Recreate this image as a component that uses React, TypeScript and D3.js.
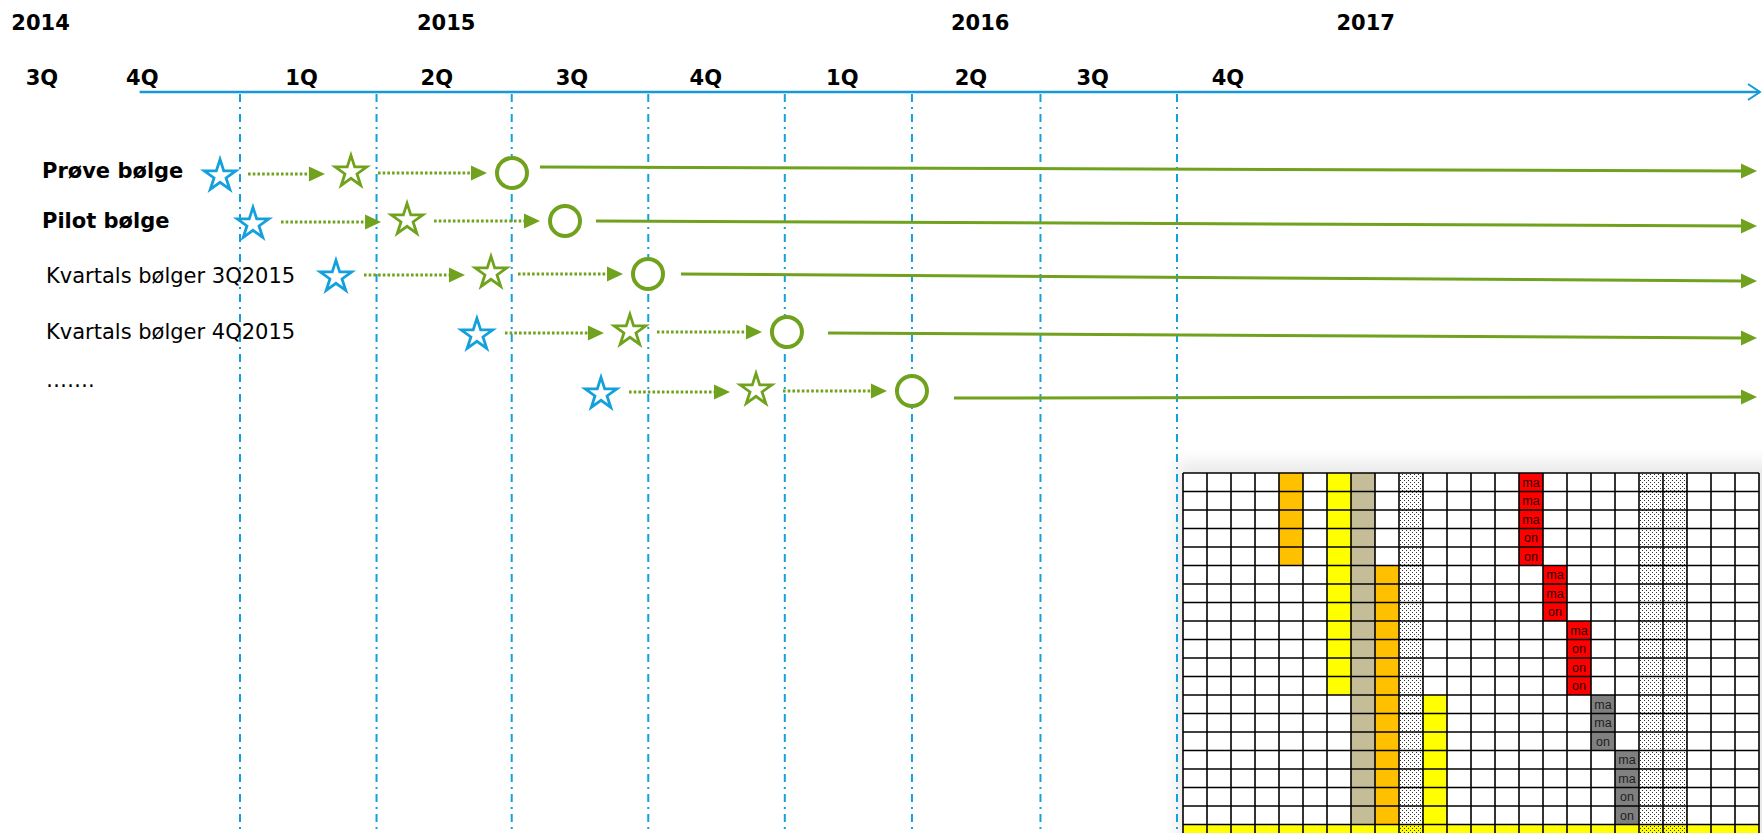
import React, { useEffect } from "react";
import * as d3 from "d3";

// ---- timeline data (time in quarters, 0 = start of 1Q 2015) ----
const yearLabels = ["2014", "2015", "2016", "2017"];
const yearT = [-1.49, 1.54, 5.53, 8.41];
const quarterLabels = ["3Q", "4Q", "1Q", "2Q", "3Q", "4Q", "1Q", "2Q", "3Q", "4Q"];
const quarterT = [-1.48, -0.73, 0.46, 1.47, 2.48, 3.48, 4.5, 5.46, 6.37, 7.38];
const gridlineT = [0, 1.02, 2.03, 3.05, 4.07, 5.02, 5.98, 7];
const axisStartT = -0.75;
const axisEndT = 11.355;
const runEndT = 11.333;

const waveNames = ["Prøve bølge", "Pilot bølge", "Kvartals bølger 3Q2015", "Kvartals bølger 4Q2015", "……."];
const waveBold = [true, true, false, false, false];
const startT = [-0.149, 0.097, 0.717, 1.77, 2.697]; // blue star
const midT = [0.829, 1.248, 1.875, 2.913, 3.855]; // green star
const goLiveT = [2.032, 2.428, 3.048, 4.086, 5.02]; // circle
const runStartT = [2.241, 2.659, 3.294, 4.393, 5.334]; // solid line start

// ---- grid (plan matrix) data ----
const gridCols = 24;
const gridRows = 20;
const blockCols = [4, 6, 7, 8, 10];
const blockFrom = [0, 0, 0, 5, 12];
const blockTo = [4, 11, 18, 18, 18];
const blockKind = ["orange", "yellow", "tan", "orange", "yellow"];
const dottedCols = [9, 19, 20];
const totalRow = 19;
const stepKinds = ["red", "red", "red", "grey", "grey"];
const stepFirstCol = 14;
const stepLabels = [
  ["ma", "ma", "ma", "on", "on"],
  ["ma", "ma", "on"],
  ["ma", "on", "on", "on"],
  ["ma", "ma", "on"],
  ["ma", "ma", "on", "on"],
];

const GREEN = "#70a21e";
const BLUE = "#14a0dc";
const AXIS = "#1799d6";
const FILLS: Record<string, string> = {
  orange: "#ffc000",
  yellow: "#ffff00",
  tan: "#c4bd97",
  red: "#ff0000",
  grey: "#808080",
};

export default function App() {
  useEffect(() => {
    document.body.style.margin = "0";
    document.body.style.overflow = "hidden";
  }, []);

  const W = 1762;
  const H = 833;
  const x = d3.scaleLinear().domain([0, 7]).range([240, 1177]);
  const idx = waveNames.map((_, i) => i);
  const rowY = d3.scaleLinear().domain(idx).range([173, 221, 274, 332, 391]);
  const labelY = d3.scaleLinear().domain(idx).range([178, 228, 283, 339, 387]);
  const runY0 = d3.scaleLinear().domain(idx).range([167, 221, 274, 333, 398]);
  const runY1 = d3.scaleLinear().domain(idx).range([171, 226, 281, 338, 397]);

  const gx = d3.scaleLinear().domain([0, gridCols]).range([1183, 1759]);
  const gy = d3.scaleLinear().domain([0, 19]).range([473, 824.5]);
  const cw = gx(1) - gx(0);
  const ch = gy(1) - gy(0);

  const star = d3.symbol(d3.symbolStar, 310)()!;
  const font = "'DejaVu Sans', Verdana, sans-serif";

  const cells: { c: number; r: number; fill: string; dotted: boolean; text?: string }[] = [];
  const cellFill: Record<string, string> = {};
  blockCols.forEach((c, i) => {
    for (let r = blockFrom[i]; r <= blockTo[i]; r++) cellFill[`${c},${r}`] = FILLS[blockKind[i]];
  });
  const cellText: Record<string, string> = {};
  let rr = 0;
  stepLabels.forEach((labs, i) => {
    labs.forEach((t, j) => {
      const key = `${stepFirstCol + i},${rr + j}`;
      cellFill[key] = FILLS[stepKinds[i]];
      cellText[key] = t;
    });
    rr += labs.length;
  });
  for (let r = 0; r < gridRows; r++) {
    for (let c = 0; c < gridCols; c++) {
      const key = `${c},${r}`;
      const dotted = dottedCols.includes(c);
      let fill = cellFill[key] || "#ffffff";
      if (r === totalRow) fill = FILLS.yellow;
      cells.push({ c, r, fill, dotted, text: cellText[key] });
    }
  }

  const arrowHead = (tipX: number, y: number, len: number, half: number) =>
    `M${tipX - len},${y - half}L${tipX},${y}L${tipX - len},${y + half}Z`;

  return (
    <svg width={W} height={H} style={{ position: "absolute", left: 0, top: 0, background: "#fff" }}>
      <defs>
        <pattern id="dotsW" width="4" height="4" patternUnits="userSpaceOnUse">
          <rect width="4" height="4" fill="#ffffff" />
          <rect x="0" y="0" width="1" height="1" fill="#333" />
          <rect x="2" y="2" width="1" height="1" fill="#333" />
        </pattern>
        <pattern id="dotsY" width="4" height="4" patternUnits="userSpaceOnUse">
          <rect width="4" height="4" fill="#ffff00" />
          <rect x="0" y="0" width="1" height="1" fill="#333" />
          <rect x="2" y="2" width="1" height="1" fill="#333" />
        </pattern>
        <filter id="blur" x="-20%" y="-20%" width="140%" height="140%">
          <feGaussianBlur stdDeviation="8" />
        </filter>
      </defs>

      {/* grid shadow */}
      <rect x={gx(0) - 6} y={gy(0) - 12} width={gx(gridCols) - gx(0) + 40} height={400} fill="#000" opacity={0.08} filter="url(#blur)" />

      {/* plan grid */}
      <g>
        {cells.map((d) => (
          <rect
            key={`${d.c}-${d.r}`}
            x={gx(d.c)}
            y={gy(d.r)}
            width={cw}
            height={ch}
            fill={d.dotted ? (d.r === totalRow ? "url(#dotsY)" : "url(#dotsW)") : d.fill}
          />
        ))}
        {d3.range(gridCols + 1).map((c) => (
          <line key={`v${c}`} x1={gx(c)} x2={gx(c)} y1={gy(0)} y2={H + 5} stroke="#000" strokeWidth={1.6} />
        ))}
        {d3.range(gridRows + 1).map((r) => (
          <line key={`h${r}`} x1={gx(0)} x2={gx(gridCols)} y1={gy(r)} y2={gy(r)} stroke="#000" strokeWidth={1.6} />
        ))}
        {cells
          .filter((d) => d.text)
          .map((d) => (
            <text
              key={`t${d.c}-${d.r}`}
              x={gx(d.c) + cw / 2}
              y={gy(d.r) + ch / 2 + 4.5}
              textAnchor="middle"
              fontFamily="'Liberation Sans', Arial, sans-serif"
              fontSize={12.5}
              fill={d.fill === FILLS.grey ? "#1e1e1e" : "#2a0000"}
            >
              {d.text}
            </text>
          ))}
      </g>

      {/* vertical quarter lines */}
      {gridlineT.map((t, i) => (
        <line
          key={`gl${i}`}
          x1={x(t)}
          x2={x(t)}
          y1={94}
          y2={H}
          stroke={BLUE}
          strokeWidth={2}
          strokeDasharray="8 5 2 5"
        />
      ))}

      {/* time axis */}
      <line x1={x(axisStartT)} x2={x(axisEndT)} y1={92} y2={92} stroke={AXIS} strokeWidth={2.5} />
      <polyline
        points={`${x(axisEndT) - 12},${84} ${x(axisEndT)},${92} ${x(axisEndT) - 12},${100}`}
        fill="none"
        stroke={AXIS}
        strokeWidth={2}
      />
      {yearLabels.map((l, i) => (
        <text key={l} x={x(yearT[i])} y={30} textAnchor="middle" fontFamily={font} fontWeight="bold" fontSize={21} fill="#000">
          {l}
        </text>
      ))}
      {quarterLabels.map((l, i) => (
        <text key={`q${i}`} x={x(quarterT[i])} y={85} textAnchor="middle" fontFamily={font} fontWeight="bold" fontSize={21} fill="#000">
          {l}
        </text>
      ))}

      {/* waves */}
      {waveNames.map((name, i) => {
        const y = rowY(i);
        const xs = x(startT[i]);
        const xm = x(midT[i]);
        const xc = x(goLiveT[i]);
        const xr = x(runStartT[i]);
        const a1s = xs + 28;
        const a1e = xm - 26;
        const a2s = xm + 27;
        const a2e = xc - 25;
        const xe = x(runEndT);
        return (
          <g key={name}>
            <text x={i < 2 ? 42 : 46} y={labelY(i)} fontFamily={font} fontWeight={waveBold[i] ? "bold" : "normal"} fontSize={21} fill="#000">
              {name}
            </text>
            <path d={star} transform={`translate(${xs},${y + 3})`} fill="#fff" stroke={BLUE} strokeWidth={2.8} />
            <line x1={a1s} x2={a1e - 14} y1={y + 1} y2={y + 1} stroke={GREEN} strokeWidth={3} strokeDasharray="2.6 2.1" />
            <path d={arrowHead(a1e, y + 1, 16, 7.5)} fill={GREEN} />
            <path d={star} transform={`translate(${xm},${y - 1})`} fill="#fff" stroke={GREEN} strokeWidth={2.8} />
            <line x1={a2s} x2={a2e - 14} y1={y} y2={y} stroke={GREEN} strokeWidth={3} strokeDasharray="2.6 2.1" />
            <path d={arrowHead(a2e, y, 16, 7.5)} fill={GREEN} />
            <circle cx={xc} cy={y} r={15} fill="#fff" stroke={GREEN} strokeWidth={4} />
            <line x1={xr} x2={xe - 14} y1={runY0(i)} y2={runY1(i)} stroke={GREEN} strokeWidth={3} />
            <path d={arrowHead(xe, runY1(i), 16, 7.5)} fill={GREEN} />
          </g>
        );
      })}
    </svg>
  );
}
